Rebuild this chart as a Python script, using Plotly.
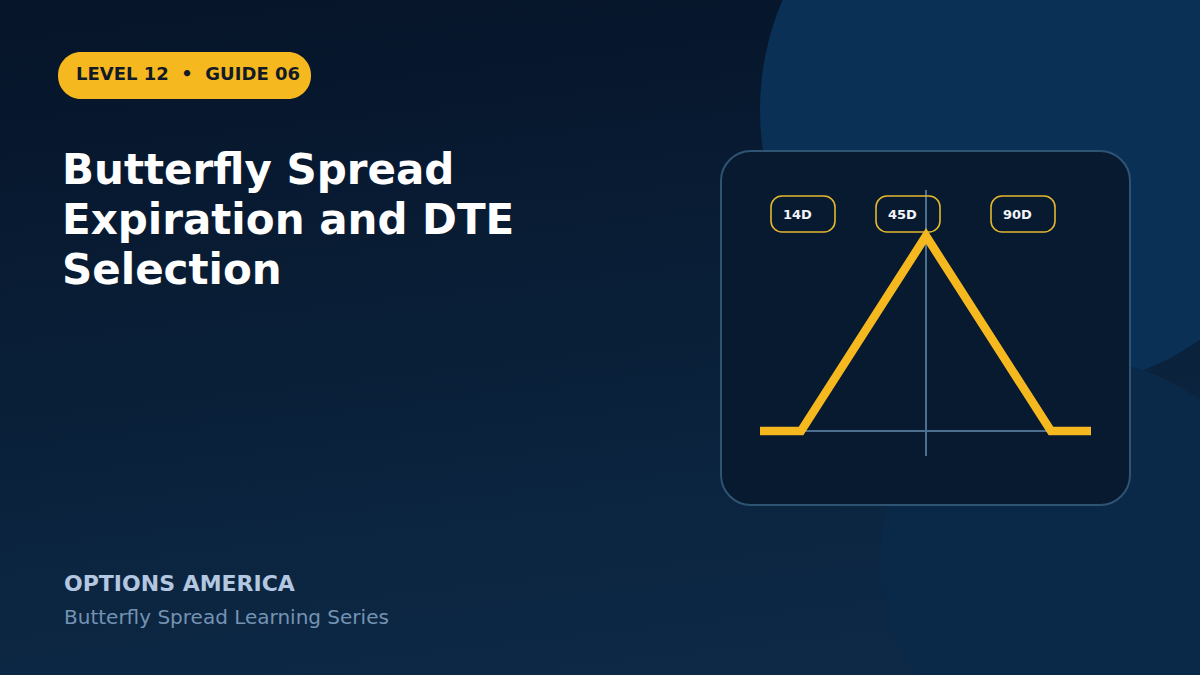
import base64
import plotly.graph_objects as go

# Payoff diagram
payoff_x = [760, 801, 926, 1051, 1091]
payoff_y = [431, 431, 236, 431, 431]
axis_x = [801, 1051]
axis_y = [431, 431]
strike_x = [926, 926]
strike_y = [190, 456]

# DTE chips
dte_labels = ["14D", "45D", "90D"]
dte_left = [771, 876, 991]
dte_text_x = [783, 888, 1003]

title_lines = ["Butterfly Spread", "Expiration and DTE", "Selection"]
title_y = [169, 219, 269]

GOLD = "#f5b81f"
LINE = "#4c6f8f"


def rrect(x0, y0, x1, y1, r):
    k = r * 0.45
    return (f"M{x0+r},{y0} L{x1-r},{y0} C{x1-k},{y0} {x1},{y0+k} {x1},{y0+r} L{x1},{y1-r} "
            f"C{x1},{y1-k} {x1-k},{y1} {x1-r},{y1} L{x0+r},{y1} C{x0+k},{y1} {x0},{y1-k} {x0},{y1-r} "
            f"L{x0},{y0+r} C{x0},{y0+k} {x0+k},{y0} {x0+r},{y0} Z")


svg = ('<svg xmlns="http://www.w3.org/2000/svg" width="1200" height="675" preserveAspectRatio="none">'
       '<defs><linearGradient id="g" x1="0.3" y1="0" x2="0.5" y2="1">'
       '<stop offset="0" stop-color="#06152a"/><stop offset="1" stop-color="#0d2946"/>'
       '</linearGradient></defs><rect width="1200" height="675" fill="url(#g)"/></svg>')
bg = "data:image/svg+xml;base64," + base64.b64encode(svg.encode()).decode()

shapes = [
    dict(type="circle", x0=760, x1=1320, y0=-170, y1=390, fillcolor="#0b3055", line_width=0, layer="below"),
    dict(type="circle", x0=880, x1=1280, y0=360, y1=760, fillcolor="#0a2949", line_width=0, layer="below"),
    dict(type="path", path=rrect(58, 52, 311, 99, 23), fillcolor=GOLD, line_width=0, layer="below"),
    dict(type="path", path=rrect(721, 151, 1130, 505, 30), fillcolor="#071a30",
         line=dict(color="#2f5373", width=2), layer="below"),
]
for left in dte_left:
    shapes.append(dict(type="path", path=rrect(left, 196, left + 64, 232, 11), fillcolor="rgba(0,0,0,0)",
                       line=dict(color="#e5b72f", width=1.6), layer="above"))

fig = go.Figure()
fig.add_trace(go.Scatter(x=axis_x, y=axis_y, mode="lines", line=dict(color=LINE, width=2), hoverinfo="skip"))
fig.add_trace(go.Scatter(x=strike_x, y=strike_y, mode="lines", line=dict(color=LINE, width=2), hoverinfo="skip"))
fig.add_trace(go.Scatter(x=payoff_x, y=payoff_y, mode="lines",
                         line=dict(color=GOLD, width=8.5), hoverinfo="skip"))

ann = []
ann.append(dict(x=76, y=73, text="<b>LEVEL 12  •  GUIDE 06</b>", xanchor="left", yanchor="middle",
                font=dict(size=18, color="#111a26")))
for line, yy in zip(title_lines, title_y):
    ann.append(dict(x=62, y=yy, text=f"<b>{line}</b>", xanchor="left", yanchor="middle",
                    font=dict(size=42, color="#ffffff")))
ann.append(dict(x=64, y=583, text="<b>OPTIONS AMERICA</b>", xanchor="left", yanchor="middle",
                font=dict(size=22, color="#b3c7e0")))
ann.append(dict(x=64, y=617, text="Butterfly Spread Learning Series", xanchor="left", yanchor="middle",
                font=dict(size=20, color="#7493b3")))
for lab, tx in zip(dte_labels, dte_text_x):
    ann.append(dict(x=tx, y=214, text=f"<b>{lab}</b>", xanchor="left", yanchor="middle",
                    font=dict(size=13, color="#f2f5f9")))
for a in ann:
    a.update(xref="x", yref="y", showarrow=False, borderpad=0, borderwidth=0)

fig.update_layout(
    width=1200, height=675, margin=dict(l=0, r=0, t=0, b=0), showlegend=False,
    paper_bgcolor="#071a30", plot_bgcolor="rgba(0,0,0,0)",
    font=dict(family="DejaVu Sans"),
    xaxis=dict(range=[0, 1200], visible=False, fixedrange=True),
    yaxis=dict(range=[675, 0], visible=False, fixedrange=True),
    shapes=shapes, annotations=ann,
    images=[dict(source=bg, xref="paper", yref="paper", x=0, y=1, sizex=1, sizey=1,
                 xanchor="left", yanchor="top", sizing="stretch", layer="below")],
)
fig.write_html("out.html", config=dict(displayModeBar=False),
               post_script="document.body.style.margin='0';document.body.style.overflow='hidden';")
